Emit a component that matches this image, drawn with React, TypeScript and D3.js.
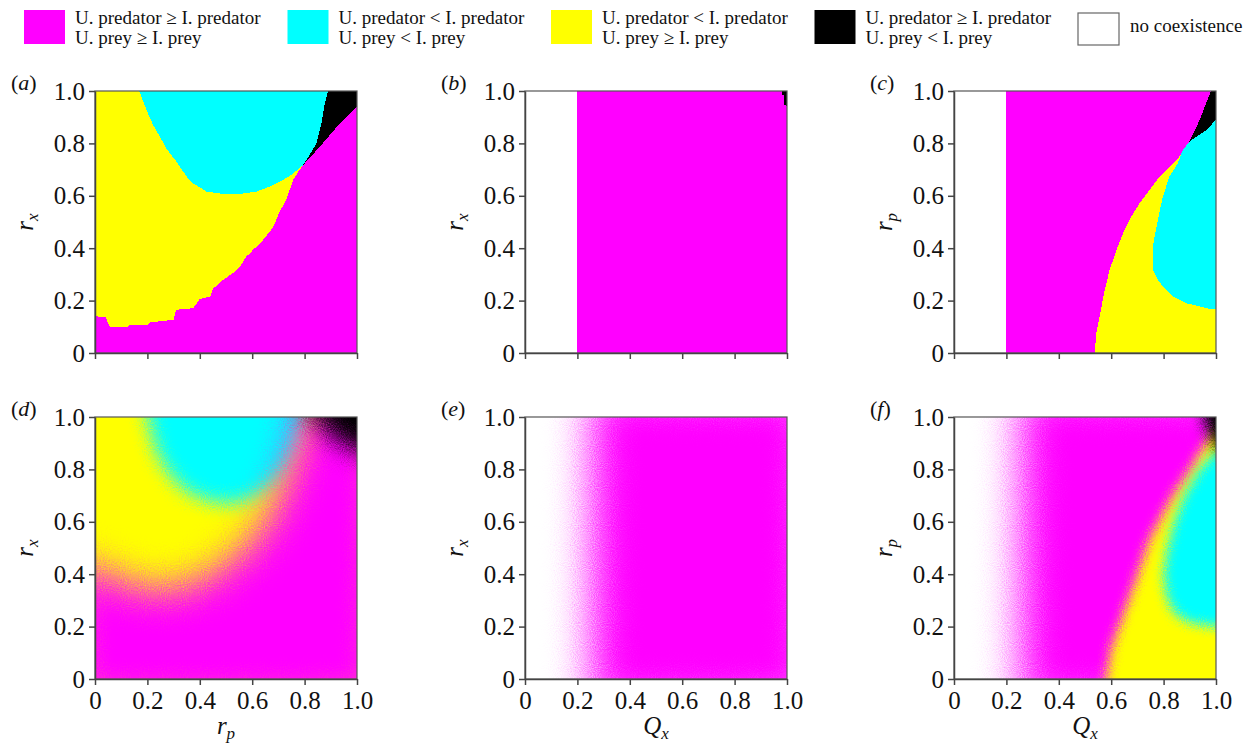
import { useEffect, useRef } from "react"
import * as d3 from "d3"

type Pt = [number, number]

// ---- axes ----
const tickValues = [0, 0.2, 0.4, 0.6, 0.8, 1.0]
const tickLabels = ["0", "0.2", "0.4", "0.6", "0.8", "1.0"]

// ---- legend ----
const legendFills = ["#ff00ff", "#00ffff", "#ffff00", "#000000", "#ffffff"]
const legendLine1 = [
  "U. predator ≥ I. predator",
  "U. predator < I. predator",
  "U. predator < I. predator",
  "U. predator ≥ I. predator",
  "no coexistence",
]
const legendLine2 = ["U. prey ≥ I. prey", "U. prey < I. prey", "U. prey ≥ I. prey", "U. prey < I. prey", ""]

// ---- (a) r_p vs r_x, deterministic ----
const aCyanEdge: Pt[] = [
  [0.169, 1.0], [0.197, 0.926], [0.222, 0.87], [0.248, 0.825], [0.273, 0.78],
  [0.311, 0.73], [0.35, 0.673], [0.375, 0.647], [0.426, 0.616], [0.489, 0.607],
  [0.553, 0.607], [0.616, 0.616], [0.667, 0.635], [0.718, 0.66], [0.756, 0.685], [0.78, 0.705],
]
const aBlackEdge: Pt[] = [
  [0.794, 0.717], [0.807, 0.736], [0.845, 0.8], [0.864, 0.876], [0.877, 0.952], [0.889, 1.0],
]
const aMagentaEdge: Pt[] = [
  [0, 0.14], [0.04, 0.137], [0.057, 0.1], [0.127, 0.1], [0.133, 0.108], [0.2, 0.108],
  [0.21, 0.117], [0.3, 0.127], [0.31, 0.165], [0.375, 0.171], [0.4, 0.206], [0.44, 0.216],
  [0.45, 0.245], [0.49, 0.28], [0.527, 0.305], [0.553, 0.33], [0.578, 0.368], [0.6, 0.39],
  [0.64, 0.43], [0.68, 0.48], [0.705, 0.54], [0.73, 0.584], [0.756, 0.66], [0.78, 0.698],
  [0.794, 0.717], [0.858, 0.787], [0.934, 0.876], [1.0, 0.94],
]

// ---- (b) Q_x vs r_x, deterministic ----
const bCoexistQ = 0.197
const bBlackCorner: Pt[] = [[0.98, 1.05], [0.98, 0.985], [0.99, 0.985], [0.99, 0.945], [1.05, 0.94], [1.05, 1.05]]

// ---- (c) Q_x vs r_p, deterministic ----
const cCoexistQ = 0.197
const cMagentaEdge: Pt[] = [
  [0.537, 0], [0.543, 0.076], [0.556, 0.14], [0.575, 0.24], [0.594, 0.317], [0.62, 0.393],
  [0.645, 0.457], [0.676, 0.52], [0.708, 0.571], [0.746, 0.622], [0.784, 0.673], [0.822, 0.71],
  [0.86, 0.749], [0.886, 0.787], [0.898, 0.806], [0.937, 0.888], [0.962, 0.952], [0.981, 1.0],
]
const cCyanLoop: Pt[] = [
  [0.898, 0.806], [0.924, 0.825], [0.962, 0.85], [1.0, 0.89], [1.05, 0.89], [1.05, 0.168],
  [0.975, 0.168], [0.937, 0.178], [0.886, 0.19], [0.835, 0.216], [0.803, 0.247], [0.778, 0.279],
  [0.759, 0.317], [0.759, 0.387], [0.761, 0.419], [0.778, 0.508], [0.797, 0.596], [0.822, 0.673],
  [0.854, 0.723], [0.873, 0.774],
]

// ---- (d) r_p vs r_x, stochastic ----
const dCyanEdge: Pt[] = [
  [0.185, 1.1], [0.2, 1.0], [0.23, 0.88], [0.27, 0.8], [0.33, 0.73], [0.4, 0.69], [0.48, 0.67],
  [0.56, 0.675], [0.63, 0.71], [0.7, 0.77], [0.75, 0.85], [0.78, 0.93], [0.8, 1.0], [0.81, 1.1],
]
const dMagentaEdge: Pt[] = [
  [-0.1, 0.44], [0, 0.42], [0.1, 0.37], [0.2, 0.34], [0.3, 0.34], [0.4, 0.37], [0.5, 0.43],
  [0.6, 0.52], [0.66, 0.6], [0.7, 0.68], [0.73, 0.76], [0.76, 0.85], [0.79, 0.95], [0.81, 1.1],
]
const dBlackCorner: Pt[] = [[0.77, 1.1], [0.84, 1.0], [0.91, 0.92], [1.0, 0.87], [1.1, 0.85], [1.1, 1.1]]

// ---- (e) Q_x vs r_x, stochastic ----
const eFadeQ = 0.255
const eBlackCorner: Pt[] = [[0.96, 1.1], [1.1, 0.95], [1.1, 1.1]]

// ---- (f) Q_x vs r_p, stochastic ----
const fFadeQ = 0.255
const fMagentaEdge: Pt[] = [
  [0.575, -0.1], [0.58, 0], [0.6, 0.12], [0.65, 0.26], [0.7, 0.4], [0.74, 0.52], [0.79, 0.62],
  [0.84, 0.71], [0.9, 0.8], [0.96, 0.9], [1.0, 0.96], [1.1, 1.05],
]
const fCyanLoop: Pt[] = [
  [0.93, 0.79], [0.97, 0.84], [1.0, 0.87], [1.1, 0.88], [1.1, 0.19], [1.0, 0.2], [0.92, 0.21],
  [0.86, 0.235], [0.83, 0.27], [0.81, 0.32], [0.8, 0.4], [0.815, 0.5], [0.84, 0.6], [0.87, 0.68],
  [0.9, 0.74],
]
const fBlackCorner: Pt[] = [[0.93, 1.1], [0.96, 0.97], [0.985, 0.91], [1.02, 0.87], [1.1, 0.85], [1.1, 1.1]]

const MAG = "#ff00ff"
const CYA = "#00ffff"
const YEL = "#ffff00"
const BLK = "#000000"
const FONT = "'Liberation Serif', 'Times New Roman', serif"

interface Layer { fill: string; pts: Pt[]; blur?: number; opacity?: number }
interface Panel { tag: string; col: number; row: number; xName: [string, string]; yName: [string, string]; bg: string; layers: Layer[] }

const band = (q: number): Pt[] => [[q, -0.1], [q, 1.1], [1.1, 1.1], [1.1, -0.1]]

const panels: Panel[] = [
  {
    tag: "a", col: 0, row: 0, xName: ["r", "p"], yName: ["r", "x"], bg: YEL,
    layers: [
      { fill: CYA, pts: [...aCyanEdge, ...aBlackEdge] },
      { fill: BLK, pts: [...aBlackEdge, [1.05, 1.05], [1.05, 0.7]] },
      { fill: MAG, pts: [[-0.05, 0.14], ...aMagentaEdge, [1.05, 0.94], [1.05, -0.05], [-0.05, -0.05]] },
    ],
  },
  {
    tag: "b", col: 1, row: 0, xName: ["Q", "x"], yName: ["r", "x"], bg: "#ffffff",
    layers: [
      { fill: MAG, pts: band(bCoexistQ) },
      { fill: BLK, pts: bBlackCorner },
    ],
  },
  {
    tag: "c", col: 2, row: 0, xName: ["Q", "x"], yName: ["r", "p"], bg: "#ffffff",
    layers: [
      { fill: MAG, pts: band(cCoexistQ) },
      { fill: YEL, pts: [[0.537, -0.05], ...cMagentaEdge, [1.0, 1.05], [1.05, 1.05], [1.05, -0.05]] },
      { fill: BLK, pts: [...cMagentaEdge.slice(14), [1.0, 1.05], [1.05, 1.05], [1.05, 0.8]] },
      { fill: CYA, pts: cCyanLoop },
    ],
  },
  {
    tag: "d", col: 0, row: 1, xName: ["r", "p"], yName: ["r", "x"], bg: YEL,
    layers: [
      { fill: CYA, pts: dCyanEdge, blur: 9 },
      { fill: MAG, pts: [...dMagentaEdge, [1.1, 1.1], [1.1, -0.1], [-0.1, -0.1]], blur: 19 },
      { fill: BLK, pts: dBlackCorner, blur: 12 },
    ],
  },
  {
    tag: "e", col: 1, row: 1, xName: ["Q", "x"], yName: ["r", "x"], bg: "#ffffff",
    layers: [
      { fill: MAG, pts: band(eFadeQ), blur: 20 },
      { fill: BLK, pts: eBlackCorner, blur: 4, opacity: 0.35 },
    ],
  },
  {
    tag: "f", col: 2, row: 1, xName: ["Q", "x"], yName: ["r", "p"], bg: "#ffffff",
    layers: [
      { fill: MAG, pts: band(fFadeQ), blur: 20 },
      { fill: YEL, pts: [...fMagentaEdge, [1.1, -0.1]], blur: 6 },
      { fill: CYA, pts: fCyanLoop, blur: 6 },
      { fill: BLK, pts: fBlackCorner, blur: 7 },
    ],
  },
]

const W = 262
const H = 262
const colX = [95, 525, 954]
const rowY = [91, 417]

export default function App() {
  const svgRef = useRef<SVGSVGElement>(null)

  useEffect(() => {
    const svg = d3.select(svgRef.current)
    svg.selectAll("*").remove()
    const defs = svg.append("defs")

    const x = d3.scaleLinear().domain([0, 1]).range([0, W])
    const y = d3.scaleLinear().domain([0, 1]).range([H, 0])
    const line = d3.line<Pt>().x((d) => x(d[0])).y((d) => y(d[1]))

    // grainy blur filters for the stochastic panels
    const blurs = Array.from(new Set(panels.flatMap((p) => p.layers.map((l) => l.blur).filter((b) => b))))
    blurs.forEach((b) => {
      const f = defs
        .append("filter")
        .attr("id", `fz${b}`)
        .attr("filterUnits", "userSpaceOnUse")
        .attr("x", -150)
        .attr("y", -150)
        .attr("width", 562)
        .attr("height", 562)
        .attr("color-interpolation-filters", "sRGB")
      f.append("feGaussianBlur").attr("in", "SourceGraphic").attr("stdDeviation", b).attr("result", "bl")
      f.append("feTurbulence")
        .attr("type", "fractalNoise")
        .attr("baseFrequency", 0.95)
        .attr("numOctaves", 1)
        .attr("seed", 7)
        .attr("result", "nz")
      f.append("feDisplacementMap")
        .attr("in", "bl")
        .attr("in2", "nz")
        .attr("scale", b * 1.5 + 5)
        .attr("xChannelSelector", "R")
        .attr("yChannelSelector", "G")
    })

    panels.forEach((p) => {
      const g = svg.append("g").attr("transform", `translate(${colX[p.col]},${rowY[p.row]})`)

      defs.append("clipPath").attr("id", `clip-${p.tag}`).append("rect").attr("width", W).attr("height", H)

      const plot = g.append("g").attr("clip-path", `url(#clip-${p.tag})`)
      plot.append("rect").attr("width", W).attr("height", H).attr("fill", p.bg)
      p.layers.forEach((l) => {
        const path = plot
          .append("path")
          .attr("d", line(l.pts) + "Z")
          .attr("fill", l.fill)
          .attr("opacity", l.opacity ?? 1)
        if (l.blur) path.attr("filter", `url(#fz${l.blur})`)
        else path.attr("shape-rendering", "crispEdges")
      })

      // frame
      g.append("rect")
        .attr("width", W)
        .attr("height", H)
        .attr("fill", "none")
        .attr("stroke", "#555")
        .attr("stroke-width", 1.2)

      // y axis
      const gy = g
        .append("g")
        .call(
          d3.axisLeft(y)
            .tickValues(tickValues)
            .tickFormat((_, i) => tickLabels[i])
            .tickSize(6)
            .tickSizeOuter(0)
            .tickPadding(4),
        )
      gy.attr("font-size", 25).attr("font-family", FONT)
      gy.selectAll("text").attr("fill", "#111")
      gy.selectAll("line,path").attr("stroke", "#444").attr("stroke-width", 1.5)

      // x axis
      const gx = g
        .append("g")
        .attr("transform", `translate(0,${H})`)
        .call(
          d3.axisBottom(x)
            .tickValues(tickValues)
            .tickFormat((_, i) => (p.row === 1 ? tickLabels[i] : ""))
            .tickSize(6)
            .tickSizeOuter(0)
            .tickPadding(6),
        )
      gx.attr("font-size", 25).attr("font-family", FONT)
      gx.selectAll("text").attr("fill", "#111")
      gx.selectAll("line,path").attr("stroke", "#444").attr("stroke-width", 1.5)

      // panel tag
      const tag = g.append("text").attr("x", -84).attr("y", -1).attr("font-family", FONT).attr("font-size", 22).attr("fill", "#111")
      tag.append("tspan").text("(")
      tag.append("tspan").attr("font-style", "italic").text(p.tag)
      tag.append("tspan").text(")")

      // y label
      const yl = g
        .append("text")
        .attr("transform", `translate(-62,${H / 2}) rotate(-90)`)
        .attr("text-anchor", "middle")
        .attr("font-family", FONT)
        .attr("font-size", 25)
        .attr("font-style", "italic")
        .attr("fill", "#111")
      yl.append("tspan").text(p.yName[0])
      yl.append("tspan").attr("font-size", 17).attr("dy", 5).text(p.yName[1])

      // x label (bottom row only)
      if (p.row === 1) {
        const xl = g
          .append("text")
          .attr("x", W / 2)
          .attr("y", H + 55)
          .attr("text-anchor", "middle")
          .attr("font-family", FONT)
          .attr("font-size", 25)
          .attr("font-style", "italic")
          .attr("fill", "#111")
        xl.append("tspan").text(p.xName[0])
        xl.append("tspan").attr("font-size", 17).attr("dy", 5).text(p.xName[1])
      }
    })

    // legend
    const lg = svg.append("g").attr("font-family", FONT).attr("font-size", 19).attr("fill", "#111")
    legendFills.forEach((c, i) => {
      const lx = 24 + i * 263.5
      lg.append("rect")
        .attr("x", lx)
        .attr("y", i === 4 ? 13 : 10)
        .attr("width", 41)
        .attr("height", i === 4 ? 32 : 34)
        .attr("fill", c)
        .attr("stroke", i === 4 ? "#666" : "none")
        .attr("stroke-width", 1.2)
      if (legendLine2[i]) {
        lg.append("text").attr("x", lx + 51).attr("y", 24).text(legendLine1[i])
        lg.append("text").attr("x", lx + 51).attr("y", 44).text(legendLine2[i])
      } else {
        lg.append("text").attr("x", lx + 52).attr("y", 32).text(legendLine1[i])
      }
    })
  }, [])

  return (
    <svg
      ref={svgRef}
      width={1247}
      height={747}
      style={{ position: "absolute", left: 0, top: 0, background: "#fff" }}
    />
  )
}
